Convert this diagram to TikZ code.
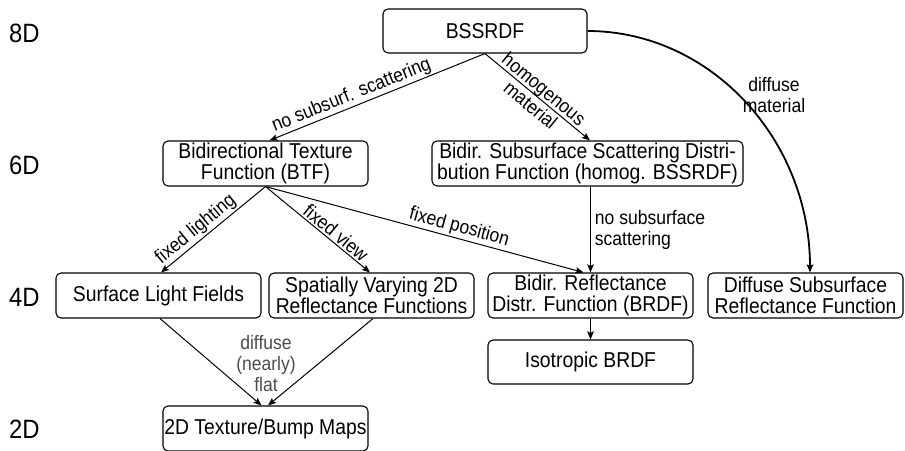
\documentclass[tikz,border=0pt]{standalone}
\usepackage{fontspec}
\setmainfont{Liberation Sans}[FakeStretch=0.9]
\usetikzlibrary{arrows.meta}
\begin{document}
\begin{tikzpicture}[x=1pt,y=-1pt,
  box/.style={draw=black, line width=1.1pt, rounded corners=5pt,
    minimum width=205pt, minimum height=45pt, inner sep=1pt, align=center,
    font=\fontsize{21.5}{21.5}\selectfont},
  lvl/.style={anchor=west, inner sep=0pt, font=\fontsize{26.5}{28}\selectfont},
  tip/.style={-{Stealth[length=8pt,width=6.5pt,inset=1.5pt]}},
  conn/.style={tip, line width=1pt},
  bold conn/.style={tip, line width=1.8pt},
  lab/.style={inner sep=1.5pt, font=\fontsize{19.5}{21}\selectfont},
  soft/.style={text=black!70},
]
\useasboundingbox (0,0) rectangle (905,450);

% level labels
\node[lvl] (l8) at (9,33) {8D};
\node[lvl] (l6) at (9,165) {6D};
\node[lvl] (l4) at (9,297) {4D};
\node[lvl] (l2) at (9,429) {2D};

% boxes
\node[box, minimum width=204pt, minimum height=44pt] (bssrdf) at (485,31) {BSSRDF};
\node[box] (btf) at (265.5,163.5) {Bidirectional Texture\\Function (BTF)};
\node[box, minimum width=311pt] (hom) at (587.5,163.5) {Bidir. Subsurface Scattering Distri-\\bution Function (homog. BSSRDF)};
\node[box] (slf) at (158.5,295.5) {Surface Light Fields};
\node[box] (sv) at (371.5,295.5) {Spatially Varying 2D\\Reflectance Functions};
\node[box] (brdf) at (590.5,295.5) {Bidir. Reflectance\\Distr. Function (BRDF)};
\node[box, minimum width=195pt] (dsr) at (805.5,295.5) {Diffuse Subsurface\\Reflectance Function};
\node[box, minimum height=44pt] (iso) at (590.5,362) {Isotropic BRDF};
\node[box] (tex) at (265.5,428.5) {2D Texture/Bump Maps};

% connectors
\draw[conn] (bssrdf.south) -- node[lab, sloped, above, pos=0.6] {no subsurf. scattering} ([xshift=4pt]btf.north);
\draw[conn] (bssrdf.south) -- node[lab, sloped, align=center, pos=0.5] {homogenous\\material} ([xshift=2.5pt]hom.north);
\draw[line width=1.8pt, tip] (bssrdf.east) .. controls (710,31) and (810,139) .. ([xshift=4.5pt]dsr.north);
\node[lab, align=center] (dm) at (774,95) {diffuse\\material};

\draw[conn] (btf.south) -- node[lab, sloped, above, pos=0.6] {fixed lighting} ([xshift=2.5pt]slf.north);
\draw[conn] (btf.south) -- node[lab, sloped, above, pos=0.62] {fixed view} ([xshift=-1.5pt]sv.north);
\draw[conn] (btf.south) -- node[lab, sloped, above, pos=0.6] {fixed position} ([xshift=-7pt]brdf.north);

\draw[bold conn] (brdf.north |- hom.south) -- node[lab, right, align=left, xshift=2pt] {no subsurface\\scattering} (brdf.north);
\draw[bold conn] (brdf.south) -- (iso.north);

\draw[conn] ([xshift=1.5pt]slf.south) -- ([xshift=-4pt]tex.north);
\draw[conn] ([xshift=1.5pt]sv.south) -- ([xshift=2.5pt]tex.north);
\node[lab, soft, align=center] (dnf) at (266,364) {diffuse\\(nearly)\\flat};
\end{tikzpicture}
\end{document}
